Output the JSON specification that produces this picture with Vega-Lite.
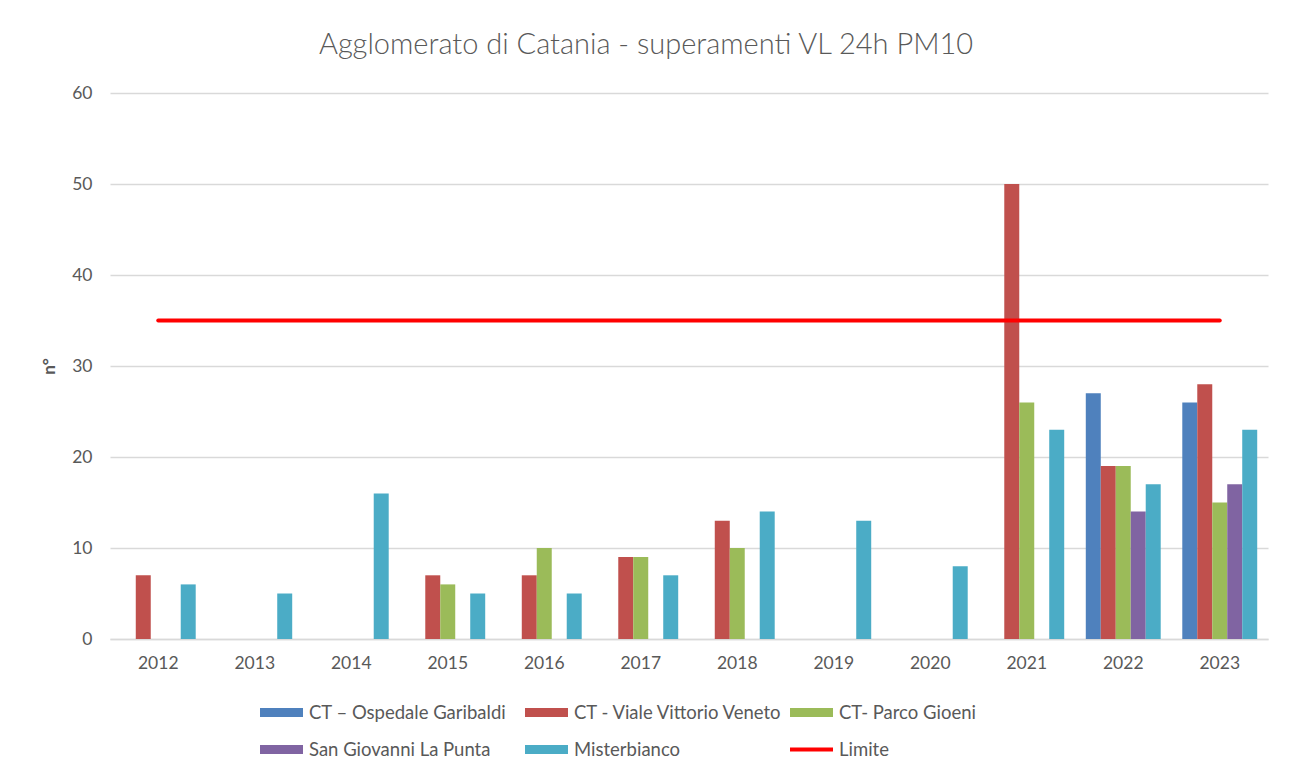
{
  "$schema": "https://vega.github.io/schema/vega-lite/v6.json",
  "autosize": {"type": "none"},
  "width": 1158,
  "height": 546,
  "padding": {"left": 110, "top": 93, "right": 24, "bottom": 133},
  "background": "white",
  "title": {
    "text": "Agglomerato di Catania - superamenti VL 24h PM10",
    "font": "Lato",
    "fontSize": 29,
    "fontWeight": 300,
    "color": "#595959",
    "anchor": "middle",
    "dx": -43,
    "baseline": "alphabetic",
    "offset": 1
  },
  "data": {
    "values": [
      {"year": "2012", "series": "CT - Viale Vittorio Veneto", "value": 7},
      {"year": "2012", "series": "Misterbianco", "value": 6},
      {"year": "2013", "series": "Misterbianco", "value": 5},
      {"year": "2014", "series": "Misterbianco", "value": 16},
      {"year": "2015", "series": "CT - Viale Vittorio Veneto", "value": 7},
      {"year": "2015", "series": "CT- Parco Gioeni", "value": 6},
      {"year": "2015", "series": "Misterbianco", "value": 5},
      {"year": "2016", "series": "CT - Viale Vittorio Veneto", "value": 7},
      {"year": "2016", "series": "CT- Parco Gioeni", "value": 10},
      {"year": "2016", "series": "Misterbianco", "value": 5},
      {"year": "2017", "series": "CT - Viale Vittorio Veneto", "value": 9},
      {"year": "2017", "series": "CT- Parco Gioeni", "value": 9},
      {"year": "2017", "series": "Misterbianco", "value": 7},
      {"year": "2018", "series": "CT - Viale Vittorio Veneto", "value": 13},
      {"year": "2018", "series": "CT- Parco Gioeni", "value": 10},
      {"year": "2018", "series": "Misterbianco", "value": 14},
      {"year": "2019", "series": "Misterbianco", "value": 13},
      {"year": "2020", "series": "Misterbianco", "value": 8},
      {"year": "2021", "series": "CT - Viale Vittorio Veneto", "value": 50},
      {"year": "2021", "series": "CT- Parco Gioeni", "value": 26},
      {"year": "2021", "series": "Misterbianco", "value": 23},
      {"year": "2022", "series": "CT – Ospedale Garibaldi", "value": 27},
      {"year": "2022", "series": "CT - Viale Vittorio Veneto", "value": 19},
      {"year": "2022", "series": "CT- Parco Gioeni", "value": 19},
      {"year": "2022", "series": "San Giovanni La Punta", "value": 14},
      {"year": "2022", "series": "Misterbianco", "value": 17},
      {"year": "2023", "series": "CT – Ospedale Garibaldi", "value": 26},
      {"year": "2023", "series": "CT - Viale Vittorio Veneto", "value": 28},
      {"year": "2023", "series": "CT- Parco Gioeni", "value": 15},
      {"year": "2023", "series": "San Giovanni La Punta", "value": 17},
      {"year": "2023", "series": "Misterbianco", "value": 23},
      {"year": "2012", "series": "Limite", "value": 35},
      {"year": "2013", "series": "Limite", "value": 35},
      {"year": "2014", "series": "Limite", "value": 35},
      {"year": "2015", "series": "Limite", "value": 35},
      {"year": "2016", "series": "Limite", "value": 35},
      {"year": "2017", "series": "Limite", "value": 35},
      {"year": "2018", "series": "Limite", "value": 35},
      {"year": "2019", "series": "Limite", "value": 35},
      {"year": "2020", "series": "Limite", "value": 35},
      {"year": "2021", "series": "Limite", "value": 35},
      {"year": "2022", "series": "Limite", "value": 35},
      {"year": "2023", "series": "Limite", "value": 35}
    ]
  },
  "encoding": {
    "x": {
      "field": "year",
      "type": "nominal",
      "sort": null,
      "scale": {"paddingInner": 0, "paddingOuter": 0},
      "axis": {
        "title": null,
        "labelAngle": 0,
        "labelFont": "Lato",
        "labelFontSize": 17.5,
        "labelColor": "#595959",
        "labelPadding": 15,
        "ticks": false,
        "domainColor": "#d9d9d9",
        "domainWidth": 1.5,
        "grid": false
      }
    },
    "y": {
      "field": "value",
      "type": "quantitative",
      "scale": {"domain": [0, 60]},
      "axis": {
        "title": "n°",
        "titleFont": "Lato",
        "titleFontSize": 17,
        "titleFontWeight": "bold",
        "titleColor": "#595959",
        "titlePadding": 13,
        "values": [0, 10, 20, 30, 40, 50, 60],
        "labelFont": "Lato",
        "labelFontSize": 17.5,
        "labelColor": "#595959",
        "labelPadding": 18,
        "ticks": false,
        "domain": false,
        "grid": true,
        "gridColor": "#d9d9d9",
        "gridWidth": 1.5
      }
    },
    "color": {
      "field": "series",
      "type": "nominal",
      "scale": {
        "domain": ["CT – Ospedale Garibaldi", "CT - Viale Vittorio Veneto", "CT- Parco Gioeni", "San Giovanni La Punta", "Misterbianco", "Limite"],
        "range": ["#4F81BD", "#C0504D", "#9BBB59", "#8064A2", "#4BACC6", "#FF0000"]
      },
      "legend": {
        "title": null,
        "orient": "none",
        "legendX": 150,
        "legendY": 598,
        "direction": "horizontal",
        "columns": 3,
        "gridAlign": "all",
        "columnPadding": 6,
        "rowPadding": 6,
        "labelFont": "Lato",
        "labelFontSize": 18.5,
        "labelColor": "#595959",
        "labelOffset": 6,
        "labelLimit": 400,
        "symbolSize": 1849,
        "symbolStrokeWidth": 0,
        "encode": {
          "symbols": {
            "update": {
              "shape": {"signal": "datum.value === 'Limite' ? 'M-1,-0.09L1,-0.09L1,0.09L-1,0.09Z' : 'M-1,-0.21L1,-0.21L1,0.21L-1,0.21Z'"},
              "fill": {"scale": "color", "field": "value"},
              "fillOpacity": {"value": 1},
              "strokeWidth": {"value": 0}
            }
          }
        }
      }
    }
  },
  "layer": [
    {
      "transform": [{"filter": "datum.series !== 'Limite'"}],
      "mark": {"type": "bar"},
      "encoding": {
        "xOffset": {
          "field": "series",
          "type": "nominal",
          "scale": {
            "domain": ["CT – Ospedale Garibaldi", "CT - Viale Vittorio Veneto", "CT- Parco Gioeni", "San Giovanni La Punta", "Misterbianco"],
            "paddingInner": 0,
            "paddingOuter": 0.72
          }
        }
      }
    },
    {
      "transform": [{"filter": "datum.series === 'Limite'"}],
      "mark": {"type": "line", "strokeWidth": 4, "strokeCap": "round"},
      "encoding": {}
    }
  ],
  "config": {
    "view": {"stroke": null}
  }
}
